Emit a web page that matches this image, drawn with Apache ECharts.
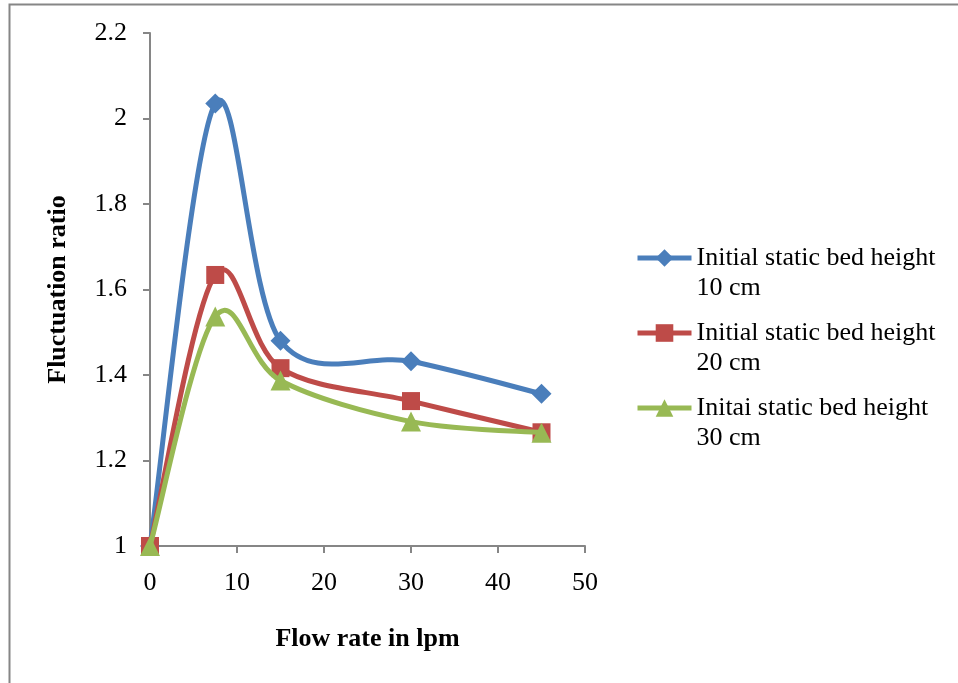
<!DOCTYPE html>
<html>
<head>
<meta charset="utf-8">
<script src="https://cdn.jsdelivr.net/npm/echarts@6/dist/echarts.min.js"></script>
<style>
html,body{margin:0;padding:0;background:#fff;}
#chart{width:958px;height:683px;}
</style>
</head>
<body>
<div id="chart"></div>
<script>
const flowRate = [0, 7.5, 15, 30, 45];
const bed10 = [1, 2.035, 1.48, 1.432, 1.356];
const bed20 = [1, 1.634, 1.416, 1.339, 1.266];
const bed30 = [1, 1.537, 1.387, 1.291, 1.265];
const seriesNames = ['Initial static bed height\n10 cm', 'Initial static bed height\n20 cm', 'Initai static bed height\n30 cm'];
const xTicks = {min: 0, max: 50, interval: 10};
const yTicks = {min: 1, max: 2.2, interval: 0.2};

const colors = ['#4A7EBB', '#BE4B48', '#98B954'];
const symbols = ['diamond', 'rect', 'triangle'];
const symbolSizes = [20, 18, 20];
const dataSets = [bed10, bed20, bed30];
const font = '"Liberation Serif", "Times New Roman", serif';
const LW = 5;

// Excel-style smoothed curve (Catmull-Rom, tangents = (next - prev) / 6),
// positions obtained from the chart's own scales via api.coord.
function makeCurveRenderer(values, color) {
  return function (params, api) {
    if (params.dataIndex !== 0) return null;
    const pts = flowRate.map((x, j) => api.coord([x, values[j]]));
    const n = pts.length;
    const children = [];
    for (let i = 0; i < n - 1; i++) {
      const p0 = pts[Math.max(i - 1, 0)], p1 = pts[i], p2 = pts[i + 1], p3 = pts[Math.min(i + 2, n - 1)];
      children.push({
        type: 'bezierCurve',
        shape: {
          x1: p1[0], y1: p1[1], x2: p2[0], y2: p2[1],
          cpx1: p1[0] + (p2[0] - p0[0]) / 6, cpy1: p1[1] + (p2[1] - p0[1]) / 6,
          cpx2: p2[0] - (p3[0] - p1[0]) / 6, cpy2: p2[1] - (p3[1] - p1[1]) / 6
        },
        style: {stroke: color, lineWidth: LW, fill: null, lineCap: 'round', lineJoin: 'round'}
      });
    }
    return {type: 'group', children: children};
  };
}

const series = [];
dataSets.forEach((d, i) => {
  const data = flowRate.map((x, j) => [x, d[j]]);
  series.push({
    type: 'custom',
    coordinateSystem: 'cartesian2d',
    renderItem: makeCurveRenderer(d, colors[i]),
    data: data,
    clip: false,
    silent: true,
    z: 2 + 2 * i
  });
  series.push({
    name: seriesNames[i],
    type: 'line',
    data: data,
    symbol: symbols[i],
    symbolSize: symbolSizes[i],
    showAllSymbol: true,
    itemStyle: {color: colors[i]},
    lineStyle: {color: colors[i], width: LW, opacity: 0},
    z: 3 + 2 * i
  });
});

const chart = echarts.init(document.getElementById('chart'));
chart.setOption({
  animation: false,
  backgroundColor: '#fff',
  textStyle: {fontFamily: font},
  graphic: [{
    type: 'rect', left: 7, top: 2,
    shape: {width: 980, height: 700},
    style: {fill: 'none', stroke: '#868686', lineWidth: 2},
    silent: true
  }],
  grid: {left: 150, right: 373, top: 33, bottom: 137},
  legend: {
    orient: 'vertical',
    left: 630,
    top: 208,
    itemWidth: 54,
    itemHeight: 22,
    itemGap: -15,
    formatter: name => '\n' + name,
    lineStyle: {width: LW, opacity: 1},
    textStyle: {fontFamily: font, fontSize: 26, color: '#000', lineHeight: 30},
    data: seriesNames
  },
  xAxis: {
    type: 'value',
    min: xTicks.min, max: xTicks.max, interval: xTicks.interval,
    name: 'Flow rate in lpm',
    nameLocation: 'middle',
    nameGap: 80,
    nameTextStyle: {fontFamily: font, fontSize: 26, fontWeight: 'bold', color: '#000'},
    axisLine: {lineStyle: {color: '#868686', width: 2}},
    axisTick: {show: true, length: 7, lineStyle: {color: '#868686', width: 2}},
    axisLabel: {fontFamily: font, fontSize: 26, color: '#000', margin: 24},
    splitLine: {show: false}
  },
  yAxis: {
    type: 'value',
    min: yTicks.min, max: yTicks.max, interval: yTicks.interval,
    name: 'Fluctuation ratio',
    nameLocation: 'middle',
    nameGap: 79,
    nameTextStyle: {fontFamily: font, fontSize: 26, fontWeight: 'bold', color: '#000'},
    axisLine: {show: true, lineStyle: {color: '#868686', width: 2}},
    axisTick: {show: true, length: 7, lineStyle: {color: '#868686', width: 2}},
    axisLabel: {fontFamily: font, fontSize: 26, color: '#000', margin: 23,
      formatter: v => String(+v.toFixed(1))},
    splitLine: {show: false}
  },
  series: series
});
</script>
</body>
</html>
